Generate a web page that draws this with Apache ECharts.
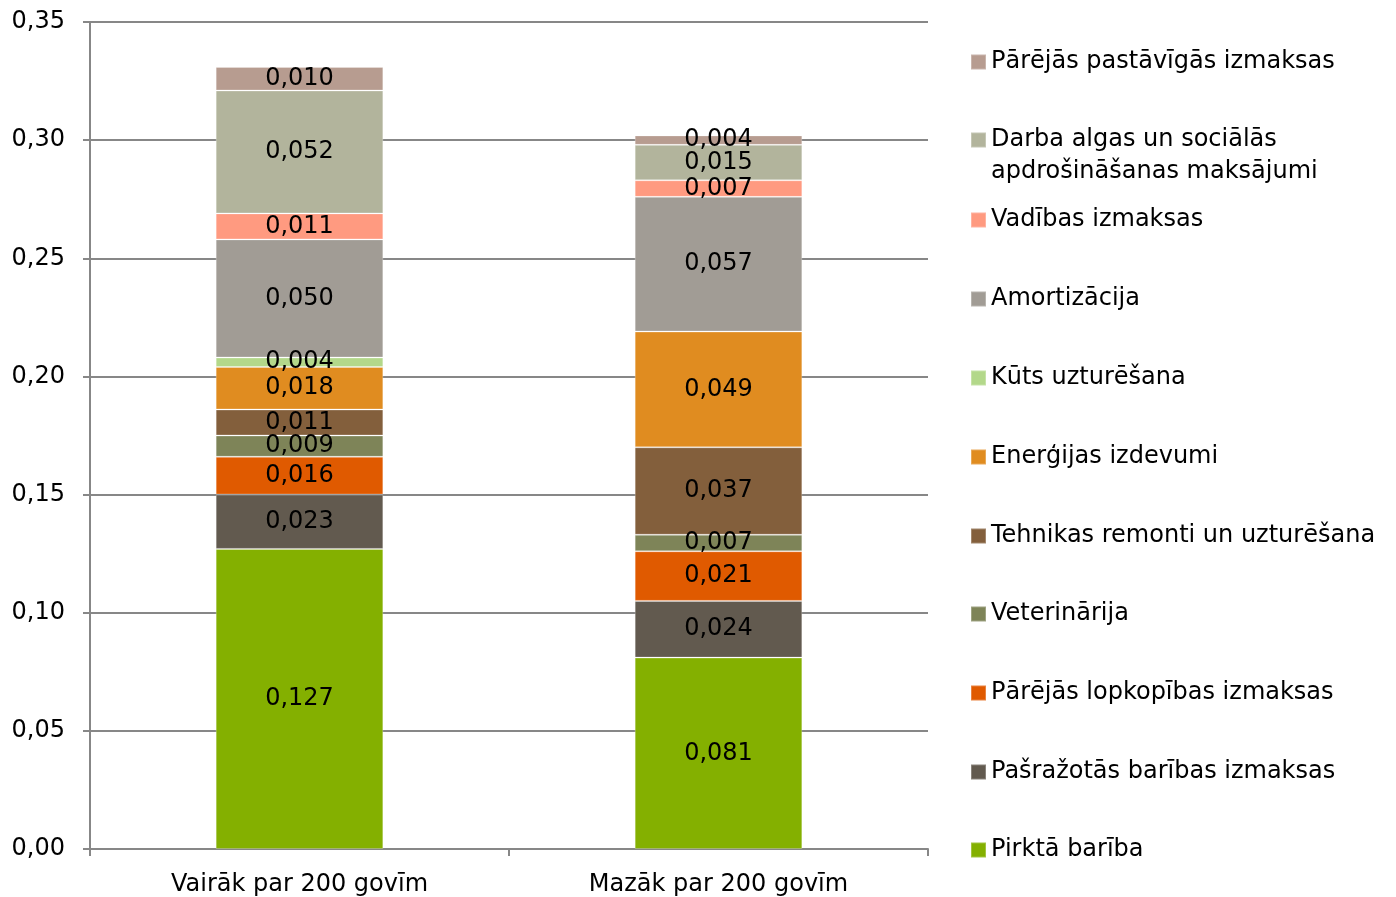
<!DOCTYPE html>
<html lang="lv">
  <head>
    <meta charset="UTF-8" />
    <title>Izmaksas</title>
    <script src="https://cdn.jsdelivr.net/npm/echarts@6/dist/echarts.min.js"></script>
    <style>
      html, body { margin: 0; padding: 0; background: #fff; }
      .echarts { width: 1396px; height: 897px; }
    </style>
  </head>
  <body>
    <div class="echarts"></div>
    <script>
        // kategorijas (x ass)
        const categories = ['Vairāk par 200 govīm', 'Mazāk par 200 govīm']

        // sērijas no apakšas uz augšu
        const seriesNames = [
            'Pirktā barība',
            'Pašražotās barības izmaksas',
            'Pārējās lopkopības izmaksas',
            'Veterinārija',
            'Tehnikas remonti un uzturēšana',
            'Enerģijas izdevumi',
            'Kūts uzturēšana',
            'Amortizācija',
            'Vadības izmaksas',
            'Darba algas un sociālās apdrošināšanas maksājumi',
            'Pārējās pastāvīgās izmaksas'
        ]

        const pirktaBariba      = [0.127, 0.081]
        const pasrazotaBariba   = [0.023, 0.024]
        const lopkopibasCitas   = [0.016, 0.021]
        const veterinarija      = [0.009, 0.007]
        const tehnikasRemonti   = [0.011, 0.037]
        const energija          = [0.018, 0.049]
        const kutsUzturesana    = [0.004, null]
        const amortizacija      = [0.050, 0.057]
        const vadiba            = [0.011, 0.007]
        const darbaAlgas        = [0.052, 0.015]
        const pastavigasCitas   = [0.010, 0.004]

        const seriesData = [
            pirktaBariba, pasrazotaBariba, lopkopibasCitas, veterinarija,
            tehnikasRemonti, energija, kutsUzturesana, amortizacija,
            vadiba, darbaAlgas, pastavigasCitas
        ]

        const colors = [
            '#84b000', '#625a4f', '#e05a00', '#7e8458', '#835f3c', '#e08c20',
            '#b3d88a', '#a19c95', '#ff9a80', '#b2b49c', '#b79c90'
        ]

        const yTicks = { min: 0, max: 0.35, interval: 0.05 }

        const FONT = 'DejaVu Sans'
        const gray = '#878787'

        // leģendas pozīcijas (ikonas centrs), no augšas uz leju
        const legendCenters = [60, 139, 218, 297, 376, 455, 534, 612, 691, 770, 848]
        const legends = seriesNames.slice().reverse().map((name, i) => {
            const twoLines = name.startsWith('Darba')
            return {
                data: [name],
                orient: 'vertical',
                left: 970,
                top: legendCenters[i] - (twoLines ? 47 : 10),
                padding: 0,
                itemWidth: 15,
                itemHeight: 15,
                itemGap: 0,
                icon: 'rect',
                selectedMode: false,
                // tukša pirmā rinda, lai ikona būtu pie pirmās teksta rindas
                formatter: twoLines ? '\nDarba algas un sociālās\napdrošināšanas maksājumi' : '{name}',
                textStyle: twoLines
                    ? { fontFamily: FONT, fontSize: 24, color: '#000', lineHeight: 32 }
                    : { fontFamily: FONT, fontSize: 24, color: '#000' }
            }
        })

        const myCharts = echarts.init(document.querySelector('.echarts'), null, { renderer: 'canvas' })

        const option = {
            animation: false,
            color: colors,
            legend: legends,
            grid: { left: 90, right: 468, top: 22, bottom: 48, containLabel: false },
            xAxis: {
                type: 'category',
                data: categories,
                axisLine: { lineStyle: { color: gray, width: 2 } },
                axisTick: { show: true, length: 7, lineStyle: { color: gray, width: 2 } },
                axisLabel: { fontFamily: FONT, fontSize: 24, color: '#000', margin: 24 }
            },
            yAxis: {
                type: 'value',
                min: yTicks.min,
                max: yTicks.max,
                interval: yTicks.interval,
                axisLine: { show: true, lineStyle: { color: gray, width: 2 } },
                axisTick: { show: true, length: 7, lineStyle: { color: gray, width: 2 } },
                splitLine: { lineStyle: { color: gray, width: 2 } },
                axisLabel: {
                    fontFamily: FONT, fontSize: 24, color: '#000', margin: 25,
                    formatter: (v) => v.toFixed(2).replace('.', ',')
                }
            },
            series: seriesNames.map((name, i) => ({
                name,
                type: 'bar',
                stack: 'total',
                barWidth: '40%',
                data: seriesData[i],
                itemStyle: { borderColor: 'rgba(255,255,255,0.25)', borderWidth: 1 },
                label: {
                    show: true,
                    position: 'inside',
                    fontFamily: FONT,
                    fontSize: 24,
                    color: '#000',
                    formatter: (p) => p.value == null ? '' : p.value.toFixed(3).replace('.', ',')
                }
            }))
        }

        myCharts.setOption(option)
    </script>
  </body>
</html>
